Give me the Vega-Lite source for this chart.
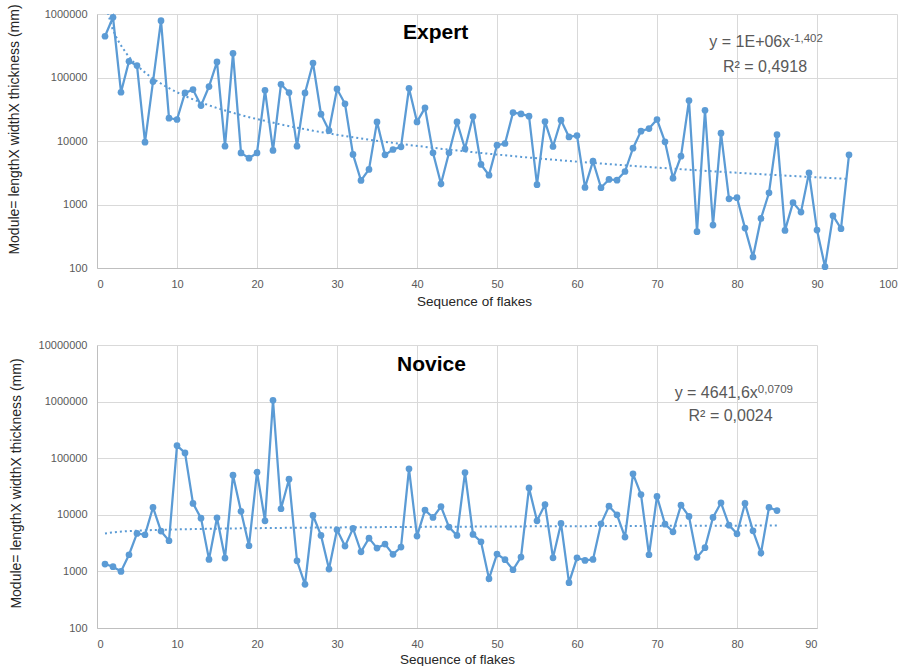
{
  "$schema": "https://vega.github.io/schema/vega-lite/v6.json",
  "background": "white",
  "padding": {"left": 6, "top": 3, "right": 5, "bottom": 2},
  "spacing": 31,
  "config": {
    "view": {"stroke": null},
    "font": "Liberation Sans",
    "title": {"font": "Liberation Sans", "fontSize": 21, "fontWeight": "bold", "color": "#000000", "anchor": "start", "frame": "group"},
    "axis": {
      "labelFont": "Liberation Sans",
      "labelFontSize": 11,
      "labelColor": "#595959",
      "titleFont": "Liberation Sans",
      "titleFontSize": 14,
      "titleFontWeight": "normal",
      "titleColor": "#262626",
      "gridColor": "#d9d9d9",
      "gridWidth": 1,
      "domainColor": "#bfbfbf",
      "ticks": false,
      "tickSize": 0
    },
    "axisX": {"labelPadding": 10, "titlePadding": 5, "titleFontSize": 13.5},
    "axisY": {"labelPadding": 10}
  },
  "datasets": {
    "expert": [
      {"x": 1, "v": 446000}, {"x": 2, "v": 887000}, {"x": 3, "v": 58600}, {"x": 4, "v": 180000}, {"x": 5, "v": 154000},
      {"x": 6, "v": 9600}, {"x": 7, "v": 86300}, {"x": 8, "v": 785000}, {"x": 9, "v": 22900}, {"x": 10, "v": 21800},
      {"x": 11, "v": 57100}, {"x": 12, "v": 64500}, {"x": 13, "v": 36100}, {"x": 14, "v": 72000}, {"x": 15, "v": 176000},
      {"x": 16, "v": 8300}, {"x": 17, "v": 240000}, {"x": 18, "v": 6500}, {"x": 19, "v": 5370}, {"x": 20, "v": 6500},
      {"x": 21, "v": 63000}, {"x": 22, "v": 7100}, {"x": 23, "v": 78300}, {"x": 24, "v": 57900}, {"x": 25, "v": 8300},
      {"x": 26, "v": 57100}, {"x": 27, "v": 169000}, {"x": 28, "v": 26400}, {"x": 29, "v": 14600}, {"x": 30, "v": 66000},
      {"x": 31, "v": 38500}, {"x": 32, "v": 6140}, {"x": 33, "v": 2390}, {"x": 34, "v": 3570}, {"x": 35, "v": 20000},
      {"x": 36, "v": 6060}, {"x": 37, "v": 7350}, {"x": 38, "v": 8090}, {"x": 39, "v": 67700}, {"x": 40, "v": 20000},
      {"x": 41, "v": 33300}, {"x": 42, "v": 6510}, {"x": 43, "v": 2120}, {"x": 44, "v": 6510}, {"x": 45, "v": 20000},
      {"x": 46, "v": 7530}, {"x": 47, "v": 24300}, {"x": 48, "v": 4270}, {"x": 49, "v": 2900}, {"x": 50, "v": 8590},
      {"x": 51, "v": 9140}, {"x": 52, "v": 28000}, {"x": 53, "v": 26700}, {"x": 54, "v": 24600}, {"x": 55, "v": 2050},
      {"x": 56, "v": 20200}, {"x": 57, "v": 8190}, {"x": 58, "v": 21300}, {"x": 59, "v": 11600}, {"x": 60, "v": 12200},
      {"x": 61, "v": 1860}, {"x": 62, "v": 4820}, {"x": 63, "v": 1840}, {"x": 64, "v": 2480}, {"x": 65, "v": 2420},
      {"x": 66, "v": 3310}, {"x": 67, "v": 7710}, {"x": 68, "v": 14300}, {"x": 69, "v": 15700}, {"x": 70, "v": 21800},
      {"x": 71, "v": 9700}, {"x": 72, "v": 2600}, {"x": 73, "v": 5770}, {"x": 74, "v": 43400}, {"x": 75, "v": 373},
      {"x": 76, "v": 30500}, {"x": 77, "v": 474}, {"x": 78, "v": 13300}, {"x": 79, "v": 1230}, {"x": 80, "v": 1280},
      {"x": 81, "v": 425}, {"x": 82, "v": 149}, {"x": 83, "v": 604}, {"x": 84, "v": 1530}, {"x": 85, "v": 12600},
      {"x": 86, "v": 391}, {"x": 87, "v": 1070}, {"x": 88, "v": 760}, {"x": 89, "v": 3150}, {"x": 90, "v": 396},
      {"x": 91, "v": 105}, {"x": 92, "v": 665}, {"x": 93, "v": 416}, {"x": 94, "v": 6060}
    ],
    "novice": [
      {"x": 1, "v": 1350}, {"x": 2, "v": 1210}, {"x": 3, "v": 1000}, {"x": 4, "v": 1970}, {"x": 5, "v": 4690},
      {"x": 6, "v": 4440}, {"x": 7, "v": 13500}, {"x": 8, "v": 5150}, {"x": 9, "v": 3480}, {"x": 10, "v": 167000},
      {"x": 11, "v": 124000}, {"x": 12, "v": 15900}, {"x": 13, "v": 8730}, {"x": 14, "v": 1630}, {"x": 15, "v": 8850},
      {"x": 16, "v": 1720}, {"x": 17, "v": 50100}, {"x": 18, "v": 11500}, {"x": 19, "v": 2840}, {"x": 20, "v": 56600},
      {"x": 21, "v": 7830}, {"x": 22, "v": 1056000}, {"x": 23, "v": 12800}, {"x": 24, "v": 42600}, {"x": 25, "v": 1540},
      {"x": 26, "v": 590}, {"x": 27, "v": 9730}, {"x": 28, "v": 4320}, {"x": 29, "v": 1100}, {"x": 30, "v": 5430},
      {"x": 31, "v": 2800}, {"x": 32, "v": 5740}, {"x": 33, "v": 2220}, {"x": 34, "v": 3870}, {"x": 35, "v": 2580},
      {"x": 36, "v": 3040}, {"x": 37, "v": 2000}, {"x": 38, "v": 2690}, {"x": 39, "v": 64900}, {"x": 40, "v": 4200},
      {"x": 41, "v": 12100}, {"x": 42, "v": 8970}, {"x": 43, "v": 14000}, {"x": 44, "v": 6060}, {"x": 45, "v": 4320},
      {"x": 46, "v": 55800}, {"x": 47, "v": 4500}, {"x": 48, "v": 3340}, {"x": 49, "v": 743}, {"x": 50, "v": 2020},
      {"x": 51, "v": 1610}, {"x": 52, "v": 1070}, {"x": 53, "v": 1790}, {"x": 54, "v": 29900}, {"x": 55, "v": 7830},
      {"x": 56, "v": 15200}, {"x": 57, "v": 1740}, {"x": 58, "v": 7030}, {"x": 59, "v": 631}, {"x": 60, "v": 1740},
      {"x": 61, "v": 1560}, {"x": 62, "v": 1630}, {"x": 63, "v": 6930}, {"x": 64, "v": 14200}, {"x": 65, "v": 10000},
      {"x": 66, "v": 4040}, {"x": 67, "v": 52900}, {"x": 68, "v": 22800}, {"x": 69, "v": 1970}, {"x": 70, "v": 21100},
      {"x": 71, "v": 6840}, {"x": 72, "v": 5010}, {"x": 73, "v": 14800}, {"x": 74, "v": 9350}, {"x": 75, "v": 1770},
      {"x": 76, "v": 2620}, {"x": 77, "v": 8970}, {"x": 78, "v": 16300}, {"x": 79, "v": 6570}, {"x": 80, "v": 4620},
      {"x": 81, "v": 15900}, {"x": 82, "v": 5220}, {"x": 83, "v": 2110}, {"x": 84, "v": 13500}, {"x": 85, "v": 11900}
    ]
  },
  "vconcat": [
    {
      "width": 800,
      "height": 254,
      "title": {"text": "Expert", "dx": 306, "offset": -39.5},
      "data": {"name": "expert"},
      "encoding": {
        "x": {
          "field": "x", "type": "quantitative",
          "scale": {"domain": [0, 100], "nice": false},
          "axis": {"values": [0, 10, 20, 30, 40, 50, 60, 70, 80, 90, 100], "title": "Sequence of flakes", "titleX": 377}
        },
        "y": {
          "field": "v", "type": "quantitative",
          "scale": {"type": "log", "domain": [100, 1000000], "nice": false},
          "axis": {"values": [100, 1000, 10000, 100000, 1000000], "format": "d", "title": "Module= lengthX widthX thickness (mm)", "titleX": -83, "titleBaseline": "middle", "titleY": 115}
        }
      },
      "layer": [
        {
          "transform": [{"regression": "v", "on": "x", "method": "pow", "extent": [1, 94]}],
          "mark": {"type": "line", "color": "#5b9bd5", "strokeWidth": 2, "strokeDash": [2, 3], "clip": true}
        },
        {"mark": {"type": "line", "color": "#5b9bd5", "strokeWidth": 2.25}},
        {"mark": {"type": "point", "filled": true, "color": "#5b9bd5", "size": 45, "opacity": 1}},
        {
          "transform": [{"filter": "datum.x == 1"}],
          "mark": {"type": "text", "text": "y = 1E+06x", "fontSize": 16, "color": "#595959", "align": "right", "baseline": "alphabetic"},
          "encoding": {"x": {"datum": 86.66}, "y": {"datum": 299000}}
        },
        {
          "transform": [{"filter": "datum.x == 1"}],
          "mark": {"type": "text", "text": "-1,402", "fontSize": 11.5, "color": "#595959", "align": "left", "baseline": "alphabetic"},
          "encoding": {"x": {"datum": 86.66}, "y": {"datum": 358000}}
        },
        {
          "transform": [{"filter": "datum.x == 1"}],
          "mark": {"type": "text", "text": "R² = 0,4918", "fontSize": 16, "color": "#595959", "align": "center", "baseline": "alphabetic"},
          "encoding": {"x": {"datum": 83.5}, "y": {"datum": 123000}}
        }
      ]
    },
    {
      "width": 720,
      "height": 283,
      "title": {"text": "Novice", "dx": 300, "offset": -36},
      "data": {"name": "novice"},
      "encoding": {
        "x": {
          "field": "x", "type": "quantitative",
          "scale": {"domain": [0, 90], "nice": false},
          "axis": {"values": [0, 10, 20, 30, 40, 50, 60, 70, 80, 90], "title": "Sequence of flakes", "titlePadding": 3}
        },
        "y": {
          "field": "v", "type": "quantitative",
          "scale": {"type": "log", "domain": [100, 10000000], "nice": false},
          "axis": {"values": [100, 1000, 10000, 100000, 1000000, 10000000], "format": "d", "title": "Module= lengthX widthX thickness (mm)", "titleX": -81, "titleBaseline": "middle", "titleY": 138}
        }
      },
      "layer": [
        {
          "transform": [{"regression": "v", "on": "x", "method": "pow", "extent": [1, 85]}],
          "mark": {"type": "line", "color": "#5b9bd5", "strokeWidth": 2, "strokeDash": [2, 3], "clip": true}
        },
        {"mark": {"type": "line", "color": "#5b9bd5", "strokeWidth": 2.25}},
        {"mark": {"type": "point", "filled": true, "color": "#5b9bd5", "size": 45, "opacity": 1}},
        {
          "transform": [{"filter": "datum.x == 1"}],
          "mark": {"type": "text", "text": "y = 4641,6x", "fontSize": 16, "color": "#595959", "align": "right", "baseline": "alphabetic"},
          "encoding": {"x": {"datum": 82.6}, "y": {"datum": 1175000}}
        },
        {
          "transform": [{"filter": "datum.x == 1"}],
          "mark": {"type": "text", "text": "0,0709", "fontSize": 11.5, "color": "#595959", "align": "left", "baseline": "alphabetic"},
          "encoding": {"x": {"datum": 82.6}, "y": {"datum": 1440000}}
        },
        {
          "transform": [{"filter": "datum.x == 1"}],
          "mark": {"type": "text", "text": "R² = 0,0024", "fontSize": 16, "color": "#595959", "align": "center", "baseline": "alphabetic"},
          "encoding": {"x": {"datum": 79.2}, "y": {"datum": 461000}}
        }
      ]
    }
  ]
}
